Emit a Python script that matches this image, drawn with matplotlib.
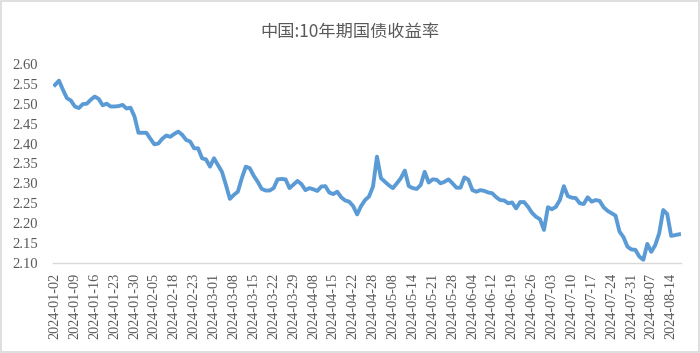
import matplotlib
matplotlib.use("Agg")
import matplotlib.pyplot as plt
from matplotlib.patches import Rectangle
import pandas as pd

# trading calendar (CN interbank), Jan 2 - Aug 16 2024
start_date = "2024-01-02"
end_date = "2024-08-16"
holidays = ["2024-02-12", "2024-02-13", "2024-02-14", "2024-02-15", "2024-02-16",
            "2024-04-04", "2024-04-05", "2024-05-01", "2024-05-02", "2024-05-03",
            "2024-06-10"]
makeup_days = ["2024-02-04", "2024-02-18", "2024-04-07", "2024-04-28", "2024-05-11"]

# 10y yield
yields = [
    2.547, 2.558, 2.535, 2.514, 2.508, 2.493, 2.489, 2.499, 2.500, 2.510,
    2.518, 2.512, 2.496, 2.500, 2.493, 2.493, 2.494, 2.497, 2.488, 2.490,
    2.468, 2.427, 2.427, 2.427, 2.412, 2.398, 2.400, 2.412, 2.420, 2.417,
    2.424, 2.430, 2.422, 2.409, 2.405, 2.388, 2.388, 2.363, 2.360, 2.342,
    2.363, 2.346, 2.329, 2.296, 2.261, 2.271, 2.279, 2.313, 2.342, 2.338,
    2.319, 2.304, 2.286, 2.282, 2.282, 2.288, 2.310, 2.311, 2.310, 2.288,
    2.297, 2.306, 2.298, 2.283, 2.288, 2.285, 2.281, 2.292, 2.293, 2.277,
    2.273, 2.279, 2.265, 2.257, 2.254, 2.243, 2.222, 2.243, 2.258, 2.267,
    2.292, 2.367, 2.313, 2.304, 2.295, 2.288, 2.300, 2.313, 2.332, 2.293,
    2.288, 2.286, 2.296, 2.329, 2.302, 2.310, 2.309, 2.300, 2.304, 2.310,
    2.300, 2.289, 2.289, 2.315, 2.309, 2.283, 2.279, 2.283, 2.281, 2.277,
    2.275, 2.265, 2.258, 2.257, 2.250, 2.252, 2.237, 2.253, 2.253, 2.241,
    2.226, 2.216, 2.210, 2.183, 2.240, 2.235, 2.241, 2.258, 2.293, 2.268,
    2.264, 2.263, 2.250, 2.248, 2.265, 2.254, 2.258, 2.256, 2.240, 2.231,
    2.225, 2.219, 2.179, 2.165, 2.141, 2.134, 2.133, 2.116, 2.108, 2.148,
    2.128, 2.145, 2.175, 2.233, 2.223, 2.168, 2.170, 2.172,
]
y_ticks = [2.10, 2.15, 2.20, 2.25, 2.30, 2.35, 2.40, 2.45, 2.50, 2.55, 2.60]
title = "中国:10年期国债收益率"

days = pd.bdate_range(start_date, end_date)
days = days.difference(pd.to_datetime(holidays)).union(pd.to_datetime(makeup_days))
labels = [d.strftime("%Y-%m-%d") for d in days]
assert len(labels) == len(yields)
pos = list(range(len(labels)))

fig = plt.figure(figsize=(7.0, 3.53), dpi=100)
fig.patches.append(Rectangle((0.002, 0.003), 0.996, 0.994, transform=fig.transFigure,
                             fill=False, edgecolor="#d9d9d9", linewidth=1.2))
ax = fig.add_axes([0.0757, 0.255, 0.8973, 0.564])

ax.plot(pos, yields, color="#5B9BD5", linewidth=2.8, solid_joinstyle="round")

ax.set_xlim(-0.5, len(pos) - 0.5)
ax.set_ylim(2.10, 2.60)
ax.set_yticks(y_ticks)
ax.set_yticklabels(["%.2f" % v for v in y_ticks], family="Liberation Serif",
                   fontsize=10.5, color="#595959")
ax.set_xticks(pos[::5])
ax.set_xticklabels(labels[::5], rotation=90, family="Liberation Serif",
                   fontsize=10.3, color="#595959")
ax.tick_params(axis="y", length=0, pad=11)
ax.tick_params(axis="x", length=0, pad=7)

for side in ["top", "right", "left"]:
    ax.spines[side].set_visible(False)
ax.spines["bottom"].set_color("#d9d9d9")
ax.spines["bottom"].set_linewidth(1.0)

fig.text(0.5, 0.91, title, ha="center", va="center", fontsize=12.4,
         color="#595959", family=["Noto Sans CJK SC", "DejaVu Sans"])

fig.savefig("out.png", dpi=100)
